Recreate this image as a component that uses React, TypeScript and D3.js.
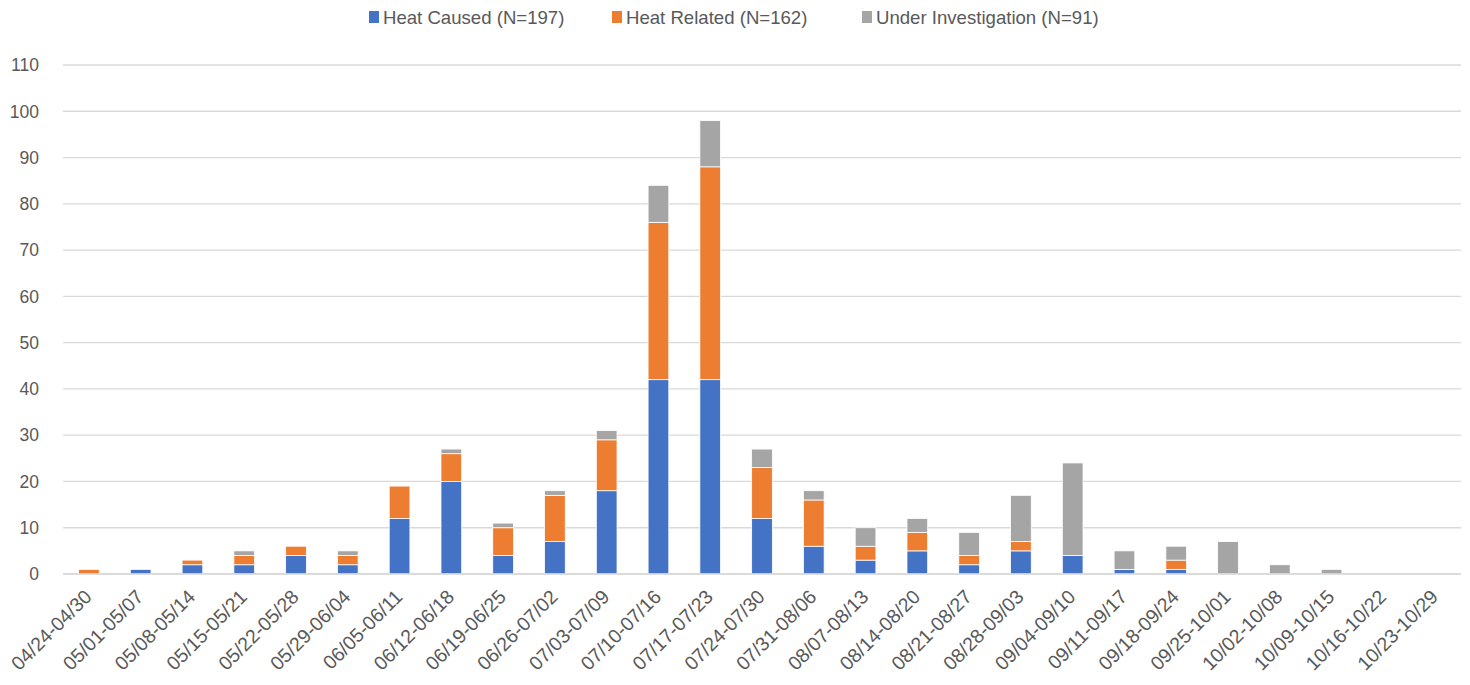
import React from 'react';
import * as d3 from 'd3';

const weeks = [
  '04/24-04/30', '05/01-05/07', '05/08-05/14', '05/15-05/21', '05/22-05/28',
  '05/29-06/04', '06/05-06/11', '06/12-06/18', '06/19-06/25', '06/26-07/02',
  '07/03-07/09', '07/10-07/16', '07/17-07/23', '07/24-07/30', '07/31-08/06',
  '08/07-08/13', '08/14-08/20', '08/21-08/27', '08/28-09/03', '09/04-09/10',
  '09/11-09/17', '09/18-09/24', '09/25-10/01', '10/02-10/08', '10/09-10/15',
  '10/16-10/22', '10/23-10/29',
];

const heatCaused = [0, 1, 2, 2, 4, 2, 12, 20, 4, 7, 18, 42, 42, 12, 6, 3, 5, 2, 5, 4, 1, 1, 0, 0, 0, 0, 0];
const heatRelated = [1, 0, 1, 2, 2, 2, 7, 6, 6, 10, 11, 34, 46, 11, 10, 3, 4, 2, 2, 0, 0, 2, 0, 0, 0, 0, 0];
const underInvestigation = [0, 0, 0, 1, 0, 1, 0, 1, 1, 1, 2, 8, 10, 4, 2, 4, 3, 5, 10, 20, 4, 3, 7, 2, 1, 0, 0];

const seriesNames = ['Heat Caused (N=197)', 'Heat Related (N=162)', 'Under Investigation (N=91)'];
const colors = ['#4472C4', '#ED7D31', '#A5A5A5'];
const yTicks = [0, 10, 20, 30, 40, 50, 60, 70, 80, 90, 100, 110];

const W = 1470;
const H = 685;
const FONT = "'Liberation Sans', Arial, sans-serif";

export default function App() {
  const rows = weeks.map((w, i) => ({
    week: w,
    hc: heatCaused[i],
    hr: heatRelated[i],
    ui: underInvestigation[i],
  }));
  const stack = d3.stack<any>().keys(['hc', 'hr', 'ui'])(rows);

  const x = d3.scaleBand().domain(weeks).range([63, 1461]).paddingInner(0.6).paddingOuter(0.3);
  const y = d3.scaleLinear().domain([0, 110]).range([574, 65]);

  // legend positions
  const legendX = [369, 612, 862];

  return (
    <svg width={W} height={H} style={{ position: 'absolute', left: 0, top: 0 }} fontFamily={FONT}>
      <rect width={W} height={H} fill="#fff" />
      {yTicks.map(t => (
        <g key={t}>
          <line x1={63} x2={1461} y1={y(t)} y2={y(t)} stroke="#D9D9D9" strokeWidth={1.3} />
          <text x={39} y={y(t)} dy="0.36em" textAnchor="end" fontSize={17.5} fill="#595959">{t}</text>
        </g>
      ))}
      {stack.map((s, si) => (
        <g key={si} fill={colors[si]}>
          {s.map((d, i) => {
            const h = y(d[0]) - y(d[1]);
            if (h <= 0) return null;
            return (
              <rect key={i} x={x(weeks[i])} y={y(d[1])} width={x.bandwidth()} height={h}
                stroke="#fff" strokeWidth={0.8} />
            );
          })}
        </g>
      ))}
      <line x1={63} x2={1461} y1={y(0)} y2={y(0)} stroke="#D9D9D9" strokeWidth={1.3} />
      {weeks.map(w => {
        const cx = (x(w) as number) + x.bandwidth() / 2;
        return (
          <text key={w} transform={`translate(${cx + 4},${598}) rotate(-45)`} textAnchor="end"
            fontSize={19.5} fill="#595959">{w}</text>
        );
      })}
      {seriesNames.map((n, i) => (
        <g key={n} transform={`translate(${legendX[i]},17)`}>
          <rect x={0} y={-6} width={10} height={12} fill={colors[i]} />
          <text x={14} y={0} dy="0.36em" fontSize={18.6} fill="#595959">{n}</text>
        </g>
      ))}
    </svg>
  );
}
